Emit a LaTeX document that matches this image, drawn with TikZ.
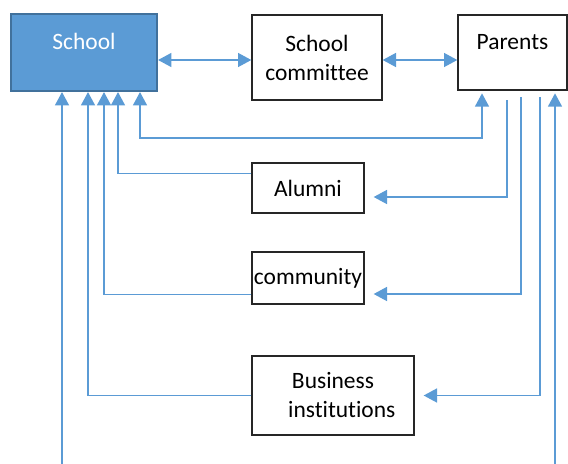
\documentclass[tikz,border=0pt]{standalone}
\usepackage{fontspec}
\setmainfont{Carlito}[Ligatures=NoCommon]
\usetikzlibrary{arrows.meta}
\definecolor{schoolblue}{RGB}{91,155,213}
\definecolor{schooledge}{RGB}{65,113,156}
\definecolor{linkblue}{RGB}{91,155,213}

\begin{document}
\begin{tikzpicture}[
    x=0.75pt, y=-0.75pt,
    >={Triangle[length=10pt,width=10.5pt]},
    font=\fontsize{17.6}{21.75}\selectfont,
    box/.style={draw=black!85, line width=1pt, align=center, inner sep=1pt},
    toptext/.style={text height=12.5pt, text depth=17.3pt},
    link/.style={draw=linkblue, line width=1.1pt},
    ]
    \useasboundingbox (0,0) rectangle (568,464);

    % Boxes
    \node[box, toptext, fill=schoolblue, draw=schooledge, line width=1.6pt,
          text=white, minimum width=109.5pt, minimum height=57.75pt]
          (school) at (84,52.5) {School};
    \node[box, minimum width=97.5pt, minimum height=63.75pt]
          (committee) at (317,57.5) {School\\committee};
    \node[box, toptext, minimum width=81.75pt, minimum height=56.25pt]
          (parents) at (512.5,52.5) {Parents};
    \node[box, minimum width=84pt, minimum height=37.5pt]
          (alumni) at (308,188) {Alumni};
    \node[box, minimum width=84pt, minimum height=39pt]
          (community) at (308,278) {community};
    \node[box, minimum width=121.5pt, minimum height=59.25pt]
          (business) at (333,395.5) {Business\\\hspace*{0.75em}institutions};

    % Free ends below the picture
    \coordinate (schoolin) at (62,464);
    \coordinate (parentsin) at (555,464);
    \coordinate (turn) at (140,138);

    % Top row
    \draw[link,<->] (school.east |- 0,60) -- (committee.west |- 0,60);
    \draw[link,<->] (committee.east |- 0,60) -- (parents.west |- 0,60);

    % Into the school
    \draw[link,->] (schoolin) -- (school.south -| schoolin);
    \draw[link,->] (business.west) -| (school.south -| 88,0);
    \draw[link,->] ([yshift=7.5pt]community.south west) -| (school.south -| 104,0);
    \draw[link,->] ([yshift=-8.25pt]alumni.north west) -| (school.south -| 118,0);
    \draw[link,<->,shorten >=2pt] (school.south -| turn) -- (turn)
                                  -| (parents.south -| 482,0);

    % Out of the parents
    \draw[link,->,shorten <=7pt,shorten >=6.75pt]
          (parents.south -| 507,0) |- ([yshift=-6.75pt]alumni.east);
    \draw[link,->,shorten <=5pt,shorten >=6.75pt]
          (parents.south -| 521,0) |- ([yshift=8pt]community.south east);
    \draw[link,->,shorten <=5pt,shorten >=6.75pt]
          (parents.south -| 540,0) |- (business.east);
    \draw[link,->,shorten >=2pt] (parentsin) -- (parents.south -| parentsin);
\end{tikzpicture}
\end{document}
